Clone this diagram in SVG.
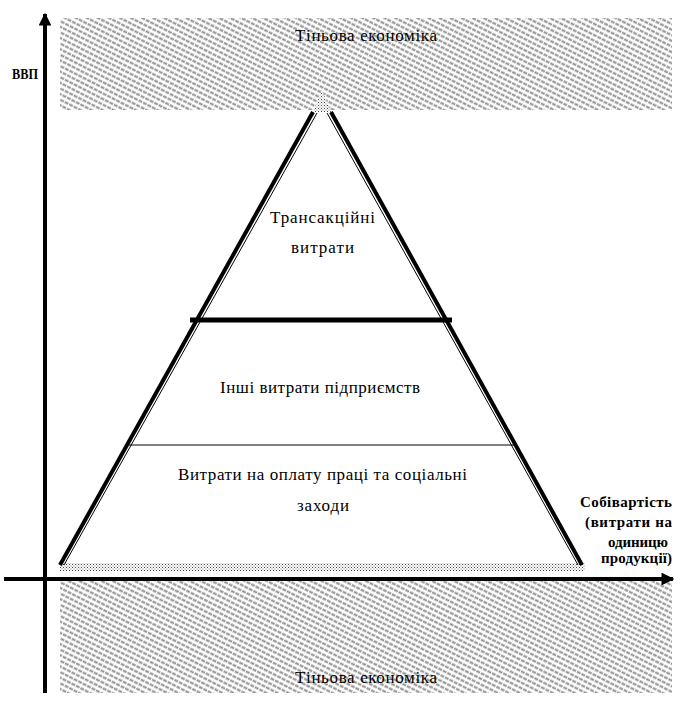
<svg xmlns="http://www.w3.org/2000/svg" width="688" height="713" viewBox="0 0 688 713">
<style>
text{font-family:"Liberation Serif","DejaVu Serif","Times New Roman",serif;fill:#000}
.n{font-size:17px}
.b{font-size:15px;font-weight:bold}
</style>
<defs>
<pattern id="hatch" width="5" height="5" patternUnits="userSpaceOnUse" patternTransform="rotate(27)">
<rect width="5" height="5" fill="#fff"/>
<line x1="0" y1="1.5" x2="5" y2="1.5" stroke="#8c8c8c" stroke-width="1.8" stroke-dasharray="3 1"/>
</pattern>
<pattern id="dots" width="3" height="3" patternUnits="userSpaceOnUse">
<rect width="3" height="3" fill="#fff"/>
<rect width="1" height="1" fill="#444"/>
<rect x="1.5" y="1.5" width="1" height="1" fill="#777"/>
</pattern>
<marker id="arr" viewBox="0 0 10 10" refX="9" refY="5" markerWidth="3.2" markerHeight="3.2" orient="auto" markerUnits="strokeWidth">
<path d="M0,0 L10,5 L0,10 z" fill="#000"/>
</marker>
</defs>
<rect width="688" height="713" fill="#fff"/>
<g id="shadow-top">
<rect x="60" y="18" width="612" height="92" fill="url(#hatch)"/>
<text class="n" x="295" y="41" textLength="142" lengthAdjust="spacing">Тіньова економіка</text>
</g>
<g id="shadow-bottom">
<rect x="60" y="578" width="612" height="115" fill="url(#hatch)"/>
<text class="n" x="295" y="683" textLength="142" lengthAdjust="spacing">Тіньова економіка</text>
</g>
<g id="pyramid-base">
<rect x="60" y="563" width="525" height="8" fill="url(#dots)"/>
<path d="M313,112 L322,90 L331,112 Z" fill="url(#dots)"/>
</g>
<g id="connectors">
<line x1="45" y1="693" x2="45" y2="14" stroke="#000" stroke-width="4" marker-end="url(#arr)"/>
<line x1="4" y1="579" x2="673" y2="579" stroke="#000" stroke-width="4" marker-end="url(#arr)"/>
<line x1="313" y1="112" x2="60" y2="565" stroke="#000" stroke-width="4"/>
<line x1="317" y1="113" x2="64" y2="565" stroke="#000" stroke-width="1"/>
<line x1="331" y1="112" x2="582" y2="565" stroke="#000" stroke-width="4"/>
<line x1="327" y1="113" x2="578" y2="565" stroke="#000" stroke-width="1"/>
<line x1="190" y1="320" x2="452" y2="320" stroke="#000" stroke-width="5"/>
<line x1="128" y1="445" x2="516" y2="445" stroke="#000" stroke-width="1"/>
</g>
<g id="label-gdp">
<text class="b" x="12" y="79" textLength="26" lengthAdjust="spacingAndGlyphs">ВВП</text>
</g>
<g id="node-transaction">
<text class="n" x="270" y="223" textLength="105" lengthAdjust="spacing">Трансакційні</text>
<text class="n" x="291" y="253" textLength="63" lengthAdjust="spacing">витрати</text>
</g>
<g id="node-other">
<text class="n" x="220" y="393" textLength="200" lengthAdjust="spacing">Інші витрати підприємств</text>
</g>
<g id="node-labour">
<text class="n" x="178" y="480" textLength="289" lengthAdjust="spacing">Витрати на оплату праці та соціальні</text>
<text class="n" x="297" y="511" textLength="52" lengthAdjust="spacing">заходи</text>
</g>
<g id="label-cost">
<text class="b" x="580" y="507" textLength="92" lengthAdjust="spacing">Собівартість</text>
<text class="b" x="585" y="527" textLength="87" lengthAdjust="spacing">(витрати на</text>
<text class="b" x="608" y="547" textLength="60" lengthAdjust="spacing">одиницю</text>
<text class="b" x="601" y="563" textLength="71" lengthAdjust="spacing">продукції)</text>
</g>
</svg>
